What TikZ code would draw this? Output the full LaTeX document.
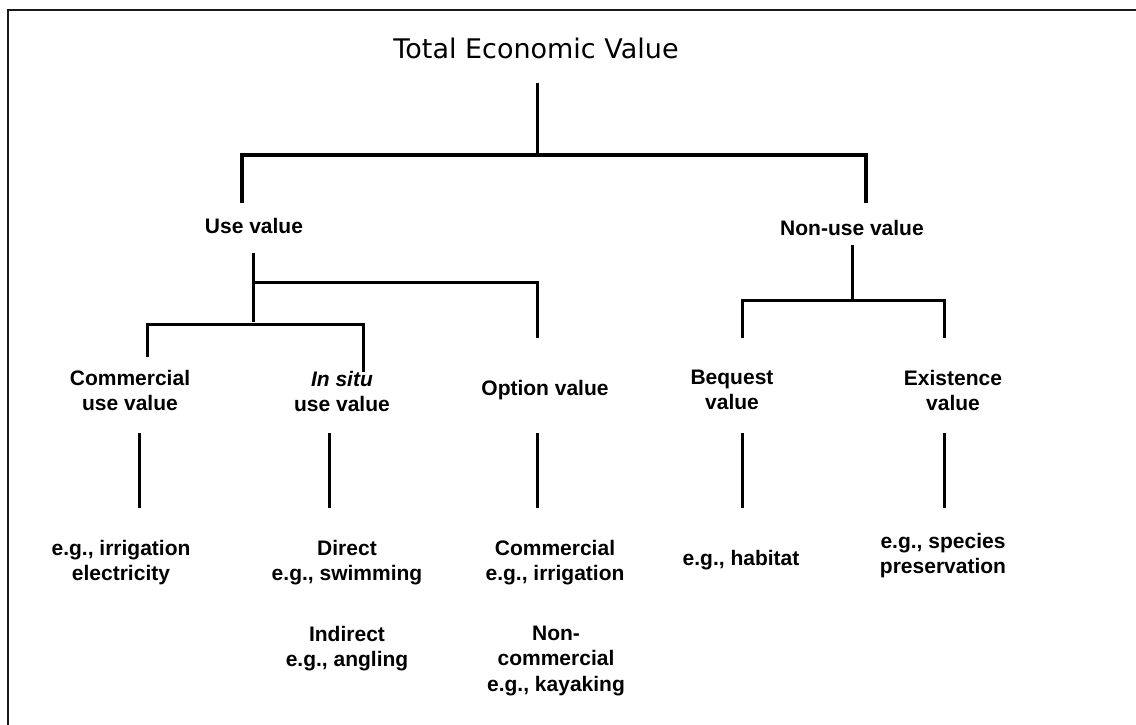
\documentclass[tikz,border=0pt]{standalone}
\usepackage{fontspec}
\setmainfont{Liberation Sans}
\newfontfamily\titlefont{DejaVu Sans}
\begin{document}
\begin{tikzpicture}[x=1pt,y=-1pt,
  lbl/.style={anchor=north,inner sep=0pt,align=center,font=\fontsize{21}{25.2}\selectfont\bfseries},
  conn/.style={line width=3pt,line cap=butt},
  mainbar/.style={line width=4pt},
  frameline/.style={line width=2pt,color=black!90}]
\useasboundingbox (0,0) rectangle (1136,725);
% frame
\draw[frameline] (8,725) -- (8,10) -- (1136,10);
% title
\node[anchor=north,inner sep=0pt,font=\titlefont\fontsize{27}{32}\selectfont] (tev) at (536,38) {Total Economic Value};
% level 1
\node[lbl] (use) at (254,218) {Use value};
\node[lbl] (nonuse) at (852,220) {Non-use value};
% level 2
\node[lbl] (comm) at (130,370) {Commercial\\use value};
\node[lbl] (insitu) at (342,371) {\textit{In situ}\\use value};
\node[lbl] (option) at (545,380) {Option value};
\node[lbl] (bequest) at (732,370) {Bequest\\value};
\node[lbl] (exist) at (953,370) {Existence\\value};
% level 3
\node[lbl] (exComm) at (121,540) {e.g., irrigation\\electricity};
\node[lbl] (exDirect) at (347,540) {Direct\\e.g., swimming};
\node[lbl] (exIndirect) at (347,626) {Indirect\\e.g., angling};
\node[lbl] (exOptC) at (555,540) {Commercial\\e.g., irrigation};
\node[lbl] (exOptN) at (556,626) {Non-\\commercial\\e.g., kayaking};
\node[lbl] (exBeq) at (741,550) {e.g., habitat};
\node[lbl] (exExist) at (943,533) {e.g., species\\preservation};
% coordinates
\coordinate (tevA) at (537,83);
\coordinate (tevB) at (537,153);
\coordinate (barL) at (242,155);
\coordinate (barR) at (866,155);
\coordinate (useUp) at (242,203);
\coordinate (nonUp) at (866,203);
\coordinate (useA) at (253,253);
\coordinate (useB) at (253,322);
\coordinate (useJ) at (253,282);
\coordinate (optJ) at (537,282);
\coordinate (optUp) at (537,338);
\coordinate (lbL) at (147,324);
\coordinate (lbR) at (363,324);
\coordinate (commUp) at (147,357);
\coordinate (insituUp) at (363,372);
\coordinate (nonA) at (852,245);
\coordinate (nonJ) at (852,300);
\coordinate (nbL) at (742,300);
\coordinate (nbR) at (944,300);
\coordinate (beqUp) at (742,338);
\coordinate (exiUp) at (944,338);
\coordinate (c1a) at (139,433); \coordinate (c1b) at (139,508);
\coordinate (c2a) at (329,433); \coordinate (c2b) at (329,508);
\coordinate (c3a) at (537,433); \coordinate (c3b) at (537,508);
\coordinate (c4a) at (742,433); \coordinate (c4b) at (742,508);
\coordinate (c5a) at (944,433); \coordinate (c5b) at (944,508);
% connectors
\draw[conn] (tevA) -- (tevB);
\draw[mainbar] (useUp) -- (barL) -- (barR) -- (nonUp);
\draw[conn] (useA) -- (useB);
\draw[conn] (useJ) -- (optJ) -- (optUp);
\draw[conn] (commUp) -- (lbL) -- (lbR) -- (insituUp);
\draw[conn] (nonA) -- (nonJ);
\draw[conn] (beqUp) -- (nbL) -- (nbR) -- (exiUp);
\draw[conn] (c1a) -- (c1b);
\draw[conn] (c2a) -- (c2b);
\draw[conn] (c3a) -- (c3b);
\draw[conn] (c4a) -- (c4b);
\draw[conn] (c5a) -- (c5b);
\end{tikzpicture}
\end{document}
